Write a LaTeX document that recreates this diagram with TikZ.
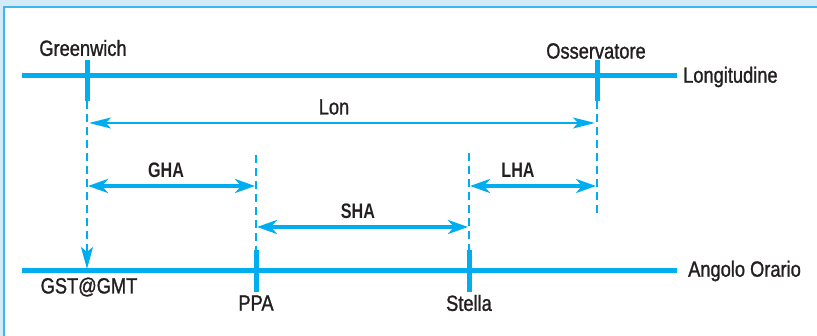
\documentclass[tikz,border=0pt]{standalone}
\usepackage{fontspec}
\setmainfont[FakeStretch=0.77]{Liberation Sans}
\newfontfamily\lblfont[FakeStretch=0.83,FakeBold=1.2]{Liberation Sans}
\usetikzlibrary{arrows.meta}
\definecolor{cy}{HTML}{00AEEF}
\definecolor{txt}{HTML}{231F20}
\definecolor{band}{HTML}{D3EBF9}
\definecolor{bandline}{HTML}{3DB7EC}
\begin{document}
\begin{tikzpicture}[x=1pt,y=-1pt,
  axis/.style={cy, line width=5pt},
  tick/.style={cy, line width=5pt},
  guide/.style={cy, line width=2.5pt, dash pattern=on 8pt off 5pt},
  thinarr/.style={cy, line width=2pt, {Stealth[length=22pt,width=11pt,inset=5pt]}-{Stealth[length=22pt,width=11pt,inset=5pt]}},
  thickarr/.style={cy, line width=4pt, {Stealth[length=20pt,width=14pt,inset=6pt]}-{Stealth[length=20pt,width=14pt,inset=6pt]}},
  lbl/.style={text=txt, inner sep=0pt, font=\lblfont\fontsize{22}{24}\selectfont},
  blbl/.style={text=txt, inner sep=0pt, font=\fontsize{21}{23}\selectfont\bfseries}]
\useasboundingbox (0,0) rectangle (817,336);
% frame
\fill[band] (0,0) rectangle (817,6);
\fill[band] (0,0) rectangle (3,336);
\draw[bandline, line width=2pt] (817,7) -- (4,7) -- (4,336);
% coordinates
\coordinate (L0) at (22,76);
\coordinate (L1) at (677,76);
\coordinate (A0) at (22,271);
\coordinate (A1) at (677,271);
\coordinate (gT) at (87,60);
\coordinate (gB) at (87,101);
\coordinate (gE) at (87,269);
\coordinate (oT) at (597,60);
\coordinate (oB) at (597,101);
\coordinate (oE) at (597,218);
\coordinate (pT) at (256,155);
\coordinate (pM) at (256,250);
\coordinate (pB) at (256,292);
\coordinate (sT) at (469,153);
\coordinate (sM) at (469,250);
\coordinate (sB) at (469,292);
% axes
\draw[axis] (L0) -- (L1);
\draw[axis] (A0) -- (A1);
% ticks
\draw[tick] (gT) -- (gB);
\draw[tick] (oT) -- (oB);
\draw[tick] (pM) -- (pB);
\draw[tick] (sM) -- (sB);
% guides
\draw[guide, -{Stealth[length=22pt,width=12pt,inset=5pt]}] (gB) -- (gE);
\draw[guide] (oB) -- (oE);
\draw[guide] (pT) -- (pM);
\draw[guide] (sT) -- (sM);
% arrows
\coordinate (lonA) at (89,123);
\coordinate (lonB) at (595,123);
\draw[thinarr] (lonA) -- (lonB);
\coordinate (ghaA) at (88,186);
\coordinate (ghaB) at (255,186);
\draw[thickarr] (ghaA) -- (ghaB);
\coordinate (shaA) at (257,227);
\coordinate (shaB) at (468,227);
\draw[thickarr] (shaA) -- (shaB);
\coordinate (lhaA) at (470,186);
\coordinate (lhaB) at (596,186);
\draw[thickarr] (lhaA) -- (lhaB);
% labels
\node[lbl] (greenwich) at (83,48) {Greenwich};
\node[lbl] (oss) at (596,51) {Osservatore};
\node[lbl, anchor=west] (long) at (683,77) {Longitudine};
\node[lbl] (lon) at (334,107) {Lon};
\node[blbl] (gha) at (166,170) {GHA};
\node[blbl] (sha) at (358,211) {SHA};
\node[blbl] (lha) at (518,170) {LHA};
\node[lbl] (gst) at (89,287) {GST@GMT};
\node[lbl] (ppa) at (256,303) {PPA};
\node[lbl] (stella) at (469,303) {Stella};
\node[lbl, anchor=west] (ang) at (688,271) {Angolo Orario};
\end{tikzpicture}
\end{document}
